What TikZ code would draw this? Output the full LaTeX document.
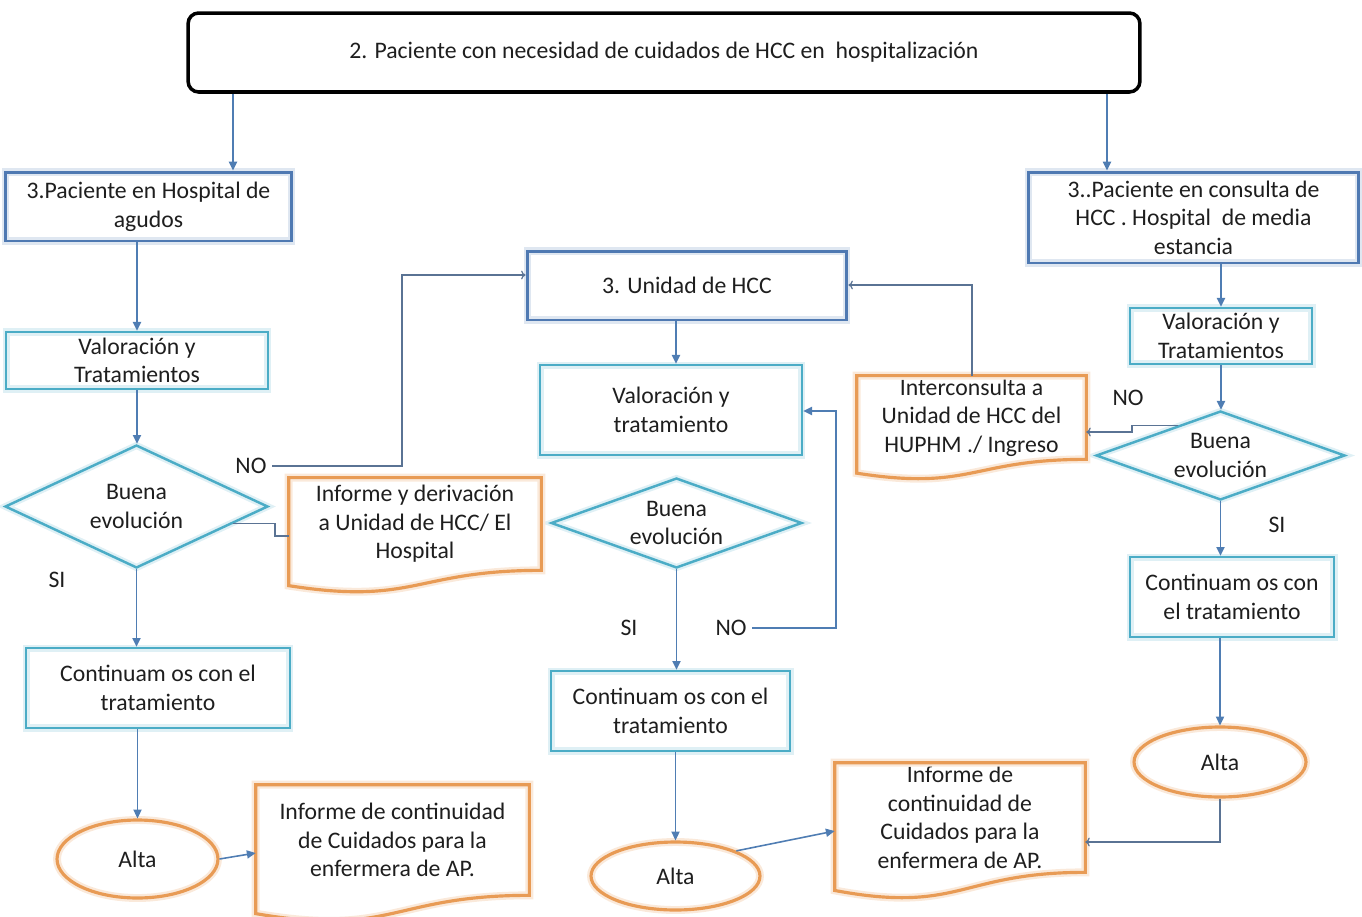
\documentclass[tikz,border=0pt]{standalone}
\usepackage{fontspec}
\setmainfont{Carlito}
\usetikzlibrary{shapes.geometric,arrows.meta,calc}

\definecolor{hccblue}{HTML}{4F79B2}
\definecolor{hcccyan}{HTML}{4BACC6}
\definecolor{hccorange}{HTML}{E89B55}
\definecolor{hccarrow}{HTML}{4F7DB3}
\definecolor{hccline}{HTML}{5A7394}
\definecolor{hcctext}{HTML}{1E1E1E}

% document-shaped outline (rectangle with a wavy lower edge) around a node
\newcommand{\docoutline}[1]{%
  \draw[docline] let \p1=(#1.north west), \p2=(#1.south east), \n1={\y1-\y2} in
    (\p1) -- (\x2,\y1) -- (\p2)
    .. controls ({0.5*\x1+0.5*\x2},\y2) and ({0.5*\x1+0.5*\x2},{\y2-0.38*\n1}) ..
    (\x1,{\y2-0.165*\n1}) -- cycle;}

\begin{document}
\begin{tikzpicture}[x=0.02cm,y=-0.02cm,
  base/.style={align=center, font=\fontsize{13.5}{16.3}\selectfont, text=hcctext, inner sep=0pt},
  headbox/.style={base, rectangle, rounded corners=6pt, draw=black, line width=2pt},
  darkbox/.style={base, rectangle, draw=hccblue, line width=1.7pt,
    preaction={draw=hccblue!18, line width=4pt}},
  lightbox/.style={base, rectangle, draw=hcccyan, line width=1.4pt,
    preaction={draw=hcccyan!18, line width=4pt}},
  decision/.style={base, diamond, aspect=2.2, draw=hcccyan, line width=1.4pt,
    preaction={draw=hcccyan!18, line width=4pt}},
  terminal/.style={base, ellipse, draw=hccorange, line width=1.8pt,
    preaction={draw=hccorange!22, line width=4.5pt}},
  docnode/.style={base, rectangle},
  docline/.style={draw=hccorange, line width=1.8pt, line join=miter,
    preaction={draw=hccorange!22, line width=4.5pt}},
  lbl/.style={base},
  flow/.style={draw=hccarrow, line width=0.9pt, -{Triangle[length=5pt,width=4.6pt]}},
  link/.style={draw=hccline, line width=0.7pt, -{To[length=2.5pt,width=5pt]}},
  plainlink/.style={draw=hccline, line width=0.7pt},
]
\useasboundingbox (0,0) rectangle (1362,916);

% ---------- nodes ----------
\node[headbox, minimum width=19.04cm, minimum height=1.58cm] (top) at (664,52.5)
  {2. Paciente con necesidad de cuidados de HCC en~~hospitalización};

\node[darkbox, minimum width=5.74cm, minimum height=1.38cm] (hosp) at (148.5,206.5)
  {3.Paciente en Hospital de\\agudos};
\node[darkbox, minimum width=6.62cm, minimum height=1.82cm] (media) at (1193.5,217.5)
  {3..Paciente en consulta de\\HCC . Hospital~~de media\\estancia};
\node[darkbox, minimum width=6.40cm, minimum height=1.38cm] (unidad) at (687,285.5)
  {3. Unidad de HCC};

% left column
\node[lightbox, minimum width=5.24cm, minimum height=1.14cm] (vtL) at (137,360.5)
  {Valoración y\\Tratamientos};
\node[decision, minimum width=5.26cm, minimum height=2.46cm] (dL) at (136.5,506.5)
  {Buena\\evolución};
\node[docnode, minimum width=5.04cm, minimum height=1.84cm] (docL1) at (415,524)
  {Informe y derivación\\a Unidad de HCC/ El\\Hospital};
\node[lightbox, minimum width=5.28cm, minimum height=1.6cm] (contL) at (158,688)
  {Continuam os con el\\tratamiento};
\node[terminal, minimum width=3.22cm, minimum height=1.56cm] (altaL) at (137.5,859)
  {Alta};
\node[docnode, minimum width=5.46cm, minimum height=2.2cm] (docL2) at (392.5,840)
  {Informe de continuidad\\de Cuidados para la\\enfermera de AP.};

% centre column
\node[lightbox, minimum width=5.24cm, minimum height=1.8cm] (vtC) at (671,410)
  {Valoración y\\tratamiento};
\node[decision, minimum width=5.02cm, minimum height=1.8cm] (dC) at (676.5,523)
  {Buena\\evolución};
\node[lightbox, minimum width=4.78cm, minimum height=1.6cm] (contC) at (670.5,711)
  {Continuam os con el\\tratamiento};
\node[terminal, minimum width=3.38cm, minimum height=1.36cm] (altaC) at (675.5,876)
  {Alta};
\node[docnode, minimum width=5.0cm, minimum height=2.18cm] (docC) at (960,817.5)
  {Informe de\\continuidad de\\Cuidados para la\\enfermera de AP.};

% right column
\node[docnode, minimum width=4.58cm, minimum height=1.66cm] (docInter) at (971.5,417.5)
  {Interconsulta a\\Unidad de HCC del\\HUPHM ./ Ingreso};
\node[lightbox, minimum width=3.64cm, minimum height=1.12cm] (vtR) at (1221,336)
  {Valoración y\\Tratamientos};
\node[decision, minimum width=4.98cm, minimum height=1.78cm] (dR) at (1220.5,455.5)
  {Buena\\evolución};
\node[lightbox, minimum width=4.08cm, minimum height=1.6cm] (contR) at (1232,597)
  {Continuam os con\\el tratamiento};
\node[terminal, minimum width=3.44cm, minimum height=1.4cm] (altaR) at (1220,762)
  {Alta};

% document outlines
\docoutline{docL1}
\docoutline{docL2}
\docoutline{docC}
\docoutline{docInter}

% branch labels
\node[lbl] (noL) at (251,466) {NO};
\node[lbl] (siL) at (57,580) {SI};
\node[lbl] (siC) at (629,628) {SI};
\node[lbl] (noC) at (731,628) {NO};
\node[lbl] (noR) at (1128,398) {NO};
\node[lbl] (siR) at (1277,525) {SI};

% ---------- bend points ----------
\coordinate (xTopL) at (233,0);
\coordinate (xTopR) at (1107,0);
\coordinate (nL) at (402,275);
\coordinate (dLp) at ($(dL.east)!0.27!(dL.south)$);
\coordinate (eL) at (275,536);
\coordinate (xU) at (676,0);
\coordinate (nC) at (836,411);
\coordinate (aL) at (0,853);
\coordinate (aC) at (0,831);
\coordinate (aR) at (0,842);
\coordinate (dRp) at ($(dR.west)!0.663!(dR.north)$);
\coordinate (eR) at (1132,432);
\coordinate (iU) at (972,285);

% ---------- connectors ----------
\draw[flow] (top.south -| xTopL) -- (hosp.north -| xTopL);
\draw[flow] (top.south -| xTopR) -- (media.north -| xTopR);

% left column
\draw[flow] (hosp.south -| vtL.north) -- (vtL.north);
\draw[flow] (vtL.south) -- (dL.north -| vtL.south);
\draw[flow] (dL.south) -- (contL.north -| dL.south);
\draw[flow] (contL.south -| altaL.north) -- (altaL.north);
\draw[flow] (altaL.east) -- (docL2.west |- aL);
\draw[link] ([xshift=3pt]noL.east) -| (nL) -- (unidad.west |- nL);
\draw[plainlink] (dLp) -| (eL) -- (docL1.west |- eL);

% centre column
\draw[flow] (unidad.south -| xU) -- (vtC.north -| xU);
\draw[flow] ([xshift=3pt]noC.east) -| (nC) -- (vtC.east |- nC);
\draw[flow] (dC.south) -- (contC.north -| dC.south);
\draw[flow] (contC.south -| altaC.north) -- (altaC.north);
\draw[flow] (altaC.north east) -- (docC.west |- aC);

% right column
\draw[flow] (media.south -| vtR.north) -- (vtR.north);
\draw[flow] (vtR.south) -- (dR.north -| vtR.south);
\draw[flow] (dR.south) -- (contR.north -| dR.south);
\draw[flow] (contR.south -| altaR.north) -- (altaR.north);
\draw[link] (dRp) -| (eR) -- (docInter.east |- eR);
\draw[link] (docInter.north -| iU) |- (unidad.east |- iU);
\draw[link] (altaR.south) |- (docC.east |- aR);
\end{tikzpicture}
\end{document}
